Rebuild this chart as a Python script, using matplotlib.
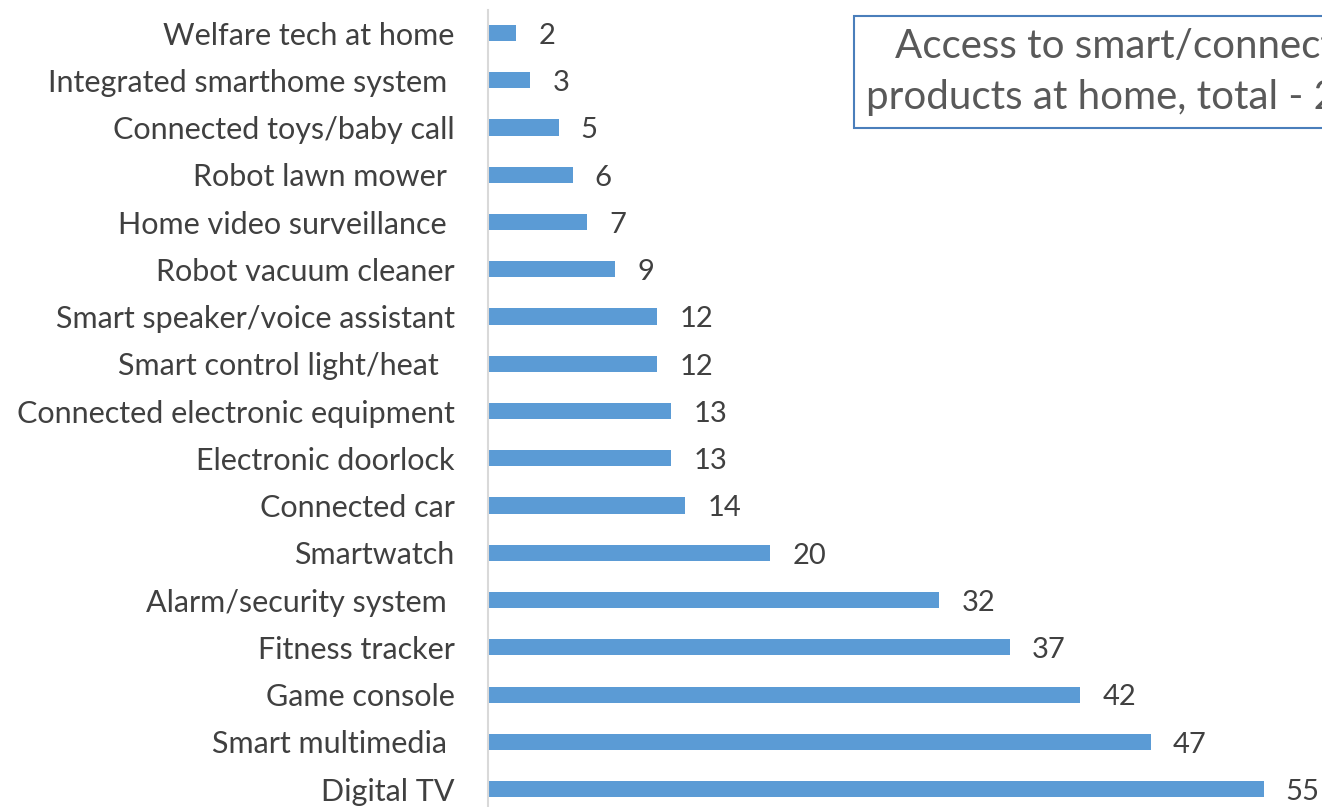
import matplotlib.pyplot as plt

plt.rcParams['font.family'] = ['Lato', 'DejaVu Sans']

# categories top to bottom, values in %
labels = ['Welfare tech at home', 'Integrated smarthome system ', 'Connected toys/baby call',
          'Robot lawn mower ', 'Home video surveillance ', 'Robot vacuum cleaner',
          'Smart speaker/voice assistant', 'Smart control light/heat  ',
          'Connected electronic equipment', 'Electronic doorlock', 'Connected car',
          'Smartwatch', 'Alarm/security system ', 'Fitness tracker', 'Game console',
          'Smart multimedia ', 'Digital TV']
values = [2, 3, 5, 6, 7, 9, 12, 12, 13, 13, 14, 20, 32, 37, 42, 47, 55]
title = 'Access to smart/connected\nproducts at home, total - 2019'

W, H = 1322, 807
fig = plt.figure(figsize=(W / 100, H / 100), dpi=100)
ax = fig.add_axes([488 / W, 0, 1 - 488 / W, 1 - 10 / H])

pos = list(range(len(labels)))
ax.barh(pos, values, height=0.34, color='#5b9bd5')
ax.set_xlim(0, (W - 488) / 14.1)
ax.set_ylim(len(labels) - 1 + 0.38, -(33 - 10) / 47.25)

ax.set_yticks(pos)
ax.set_yticklabels(labels, fontsize=22, color='#404040')
ax.tick_params(axis='y', length=0, pad=24)
ax.set_xticks([])
for s in ['top', 'right', 'bottom']:
    ax.spines[s].set_visible(False)
ax.spines['left'].set_color('#d9d9d9')
ax.spines['left'].set_linewidth(1.5)

for p, v in zip(pos, values):
    ax.annotate(str(v), (v, p), xytext=(16, -2), textcoords='offset points',
                ha='left', va='center', fontsize=21, color='#404040')

fig.text(866 / W, 1 - 72 / H, title, ha='left', va='center', multialignment='center',
         fontsize=29, color='#595959', linespacing=1.45,
         bbox=dict(boxstyle='square,pad=0.3', facecolor='white', edgecolor='#4a7ebb', linewidth=1.5))

plt.savefig('out.png', dpi=100)
